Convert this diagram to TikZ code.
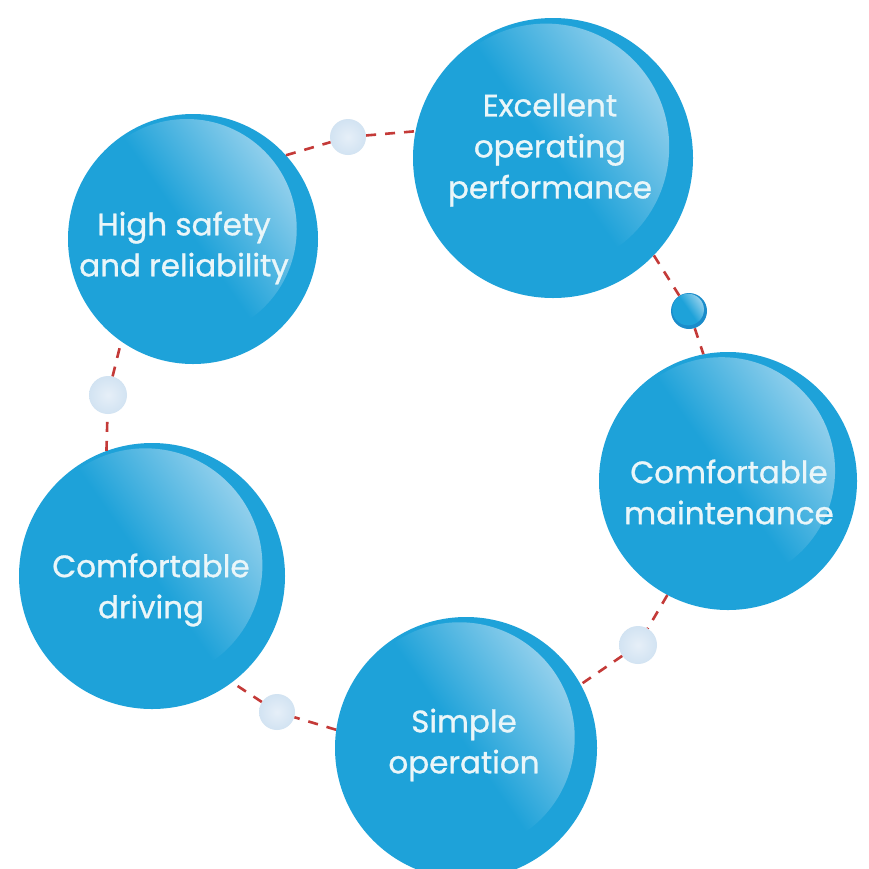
\documentclass[tikz,border=0pt]{standalone}
\usepackage{fontspec}
\setmainfont{Poppins}[FakeBold=0.9]
\usetikzlibrary{calc}
\definecolor{ballblue}{RGB}{30,162,217}
\definecolor{ballhi}{RGB}{205,231,246}
\definecolor{darkball}{RGB}{26,140,202}
\definecolor{dashred}{RGB}{196,58,56}
\definecolor{palein}{RGB}{230,239,248}
\definecolor{paleout}{RGB}{210,227,242}
\definecolor{txt}{RGB}{234,246,249}
\pgfdeclarehorizontalshading{gloss}{100bp}{color(0bp)=(ballblue); color(50bp)=(ballblue); color(88bp)=(ballhi); color(100bp)=(ballhi)}
\tikzset{
  ballnode/.style={circle, inner sep=0pt, fill=ballblue},
  darknode/.style={circle, inner sep=0pt, fill=darkball},
  palenode/.style={circle, inner sep=0pt, minimum size=#1, inner color=palein, outer color=paleout},
  lbl/.style={text=txt, align=center, inner sep=0pt, font=\fontsize{31}{41}\selectfont},
  link/.style={draw=dashred, line width=2.6pt, dash pattern=on 10pt off 9pt}
}
\newcommand\glossball[5]{% name, x, y, r, style
  \node[#5, minimum size={2*#4 pt}] (#1) at (#2,#3) {};
  \begin{scope}
    \clip (#2,#3) circle[radius={#4 pt}];
    \shade[shading=gloss, shading angle=35] ({#2-0.05*#4},{#3-0.08*#4}) circle[radius={0.88*#4 pt}];
  \end{scope}}
\begin{document}
\begin{tikzpicture}[x=1pt,y=-1pt]
\useasboundingbox (0,0) rectangle (869,868);
\fill[white] (0,0) rectangle (869,868);
% big balls
\glossball{ex}{553}{158}{140}{ballnode}
\glossball{hs}{193}{239}{125}{ballnode}
\glossball{cm}{728}{481}{129}{ballnode}
\glossball{cd}{152}{576}{133}{ballnode}
\glossball{so}{466}{748}{131}{ballnode}
% small spheres
\node[palenode=36pt] (s1) at (348,137) {};
\glossball{s2}{689}{311}{18}{darknode}
\node[palenode=38pt] (s3) at (638,645) {};
\node[palenode=36pt] (s4) at (277,712) {};
\node[palenode=38pt] (s5) at (108,395) {};
% connectors
\draw[link] (hs.42) -- (s1);
\draw[link] (s1) -- (ex.169);
\draw[link] (ex.-44) -- (s2);
\draw[link] (s2) -- (cm.101);
\draw[link] (cm.242) -- (s3);
\draw[link] (s3) -- (so.29);
\draw[link] (so.172) -- (s4);
\draw[link] (s4) -- (cd.-53);
\draw[link] (cd.110) -- (s5);
\draw[link] (s5) -- (hs.235);
% labels
\node[lbl] (ext) at (550,150) {Excellent\\operating\\performance};
\node[lbl] (hst) at (184,248) {High safety\\and reliability};
\node[lbl] (cmt) at (729,492) {Comfortable\\maintenance};
\node[lbl] (cdt) at (151,590) {Comfortable\\driving};
\node[lbl] (sot) at (464,745) {Simple\\operation};
\end{tikzpicture}
\end{document}
